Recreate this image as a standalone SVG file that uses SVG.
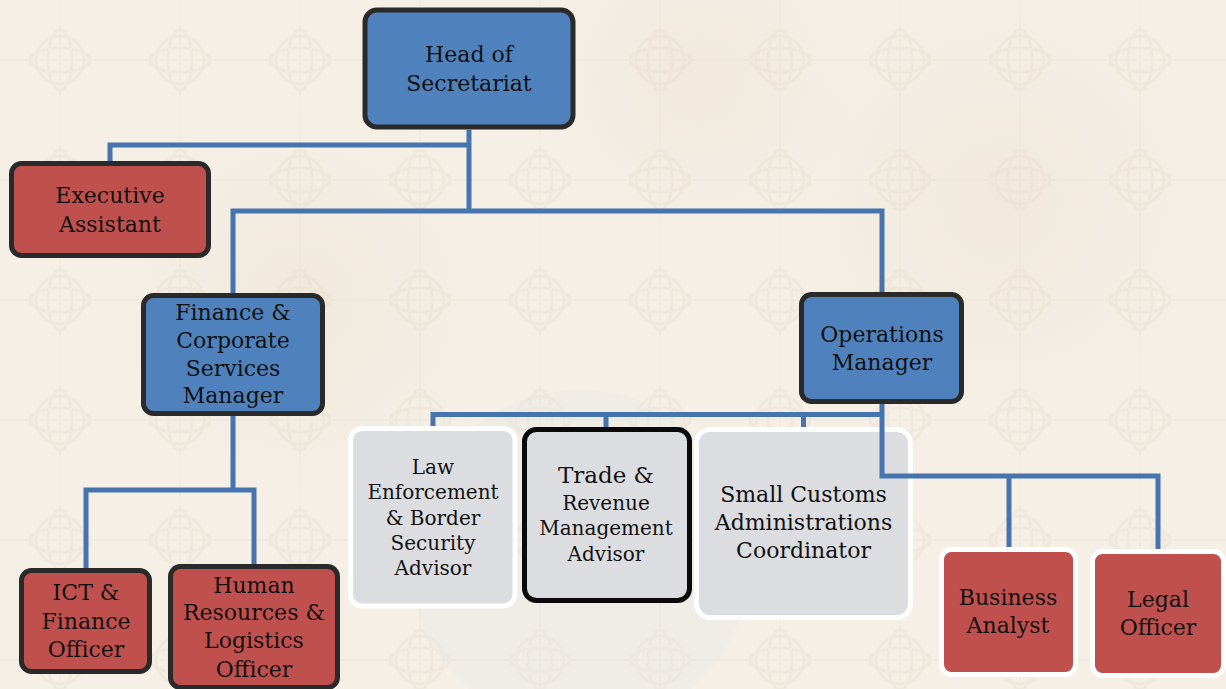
<svg xmlns="http://www.w3.org/2000/svg" width="1226" height="689" viewBox="0 0 1226 689">
<style>
.t{font-family:"DejaVu Serif","Liberation Serif",serif;font-size:22px;fill:#111;text-anchor:middle}
.s{font-size:20px}
.blue{fill:#4f81bd;stroke:#2a2a2a;stroke-width:5}
.red{fill:#c0504d;stroke:#2a2a2a;stroke-width:5}
.redw{fill:#c0504d;stroke:#ffffff;stroke-width:5}
.grey{fill:#dcdde0;stroke:#ffffff;stroke-width:5}
.greyk{fill:#dcdde0;stroke:#0a0a0a;stroke-width:5}
.c{fill:none;stroke:#4674ae;stroke-width:5;stroke-linejoin:miter}
</style>
<defs>
<pattern id="bg" width="120" height="120" patternUnits="userSpaceOnUse">
<rect width="120" height="120" fill="#f5efe6"/>
<g fill="none" stroke="#ede3d5" stroke-width="3" opacity="0.6">
<ellipse cx="60" cy="60" rx="12" ry="30"/>
<ellipse cx="60" cy="60" rx="30" ry="12"/>
<ellipse cx="60" cy="60" rx="24" ry="24" transform="rotate(45 60 60)"/>
</g>
<path d="M0 60 L120 60 M60 0 L60 120" stroke="#f0e8dc" stroke-width="2" opacity="0.7"/>
</pattern>
<radialGradient id="mot" cx="0.5" cy="0.5" r="0.5">
<stop offset="0" stop-color="#e8dccb" stop-opacity="0.35"/>
<stop offset="1" stop-color="#e8dccb" stop-opacity="0"/>
</radialGradient>
</defs>
<rect width="1226" height="689" fill="url(#bg)"/>
<circle cx="300" cy="300" r="200" fill="url(#mot)"/>
<circle cx="1000" cy="200" r="220" fill="url(#mot)"/>
<circle cx="700" cy="80" r="160" fill="url(#mot)"/>
<circle cx="580" cy="560" r="170" fill="#dfe6e6" opacity="0.25"/>

<g id="head">
<rect class="blue" x="365" y="10" width="208" height="117" rx="12"/>
<text class="t" x="469" y="62">Head of</text>
<text class="t" x="469" y="91">Secretariat</text>
</g>

<g id="exec">
<rect class="red" x="11.5" y="163.5" width="197" height="92" rx="10"/>
<text class="t" x="110" y="203">Executive</text>
<text class="t" x="110" y="232">Assistant</text>
</g>

<g id="finance">
<rect class="blue" x="143.5" y="295.5" width="179" height="118" rx="10"/>
<text class="t" x="233" y="320">Finance &amp;</text>
<text class="t" x="233" y="348">Corporate</text>
<text class="t" x="233" y="376">Services</text>
<text class="t" x="233" y="403">Manager</text>
</g>

<g id="ops">
<rect class="blue" x="801.5" y="294.5" width="160" height="107" rx="10"/>
<text class="t" x="882" y="342">Operations</text>
<text class="t" x="882" y="370">Manager</text>
</g>

<g id="law">
<rect class="grey" x="350.5" y="428.5" width="164.5" height="177.5" rx="12"/>
<text class="t s" x="433" y="474">Law</text>
<text class="t s" x="433" y="499">Enforcement</text>
<text class="t s" x="433" y="525">&amp; Border</text>
<text class="t s" x="433" y="550">Security</text>
<text class="t s" x="433" y="575">Advisor</text>
</g>

<g id="trade">
<rect class="greyk" x="524.5" y="429.5" width="165" height="171" rx="12"/>
<text class="t" x="606" y="483" style="font-size:23px">Trade &amp;</text>
<text class="t s" x="606" y="510">Revenue</text>
<text class="t s" x="606" y="535">Management</text>
<text class="t s" x="606" y="561">Advisor</text>
</g>

<g id="customs">
<rect class="grey" x="696.5" y="429.5" width="214" height="188" rx="14"/>
<text class="t" x="803.5" y="502">Small Customs</text>
<text class="t" x="803.5" y="530">Administrations</text>
<text class="t" x="803.5" y="558">Coordinator</text>
</g>

<g id="business">
<rect class="redw" x="941.5" y="549.5" width="134" height="125" rx="10"/>
<text class="t" x="1008" y="605">Business</text>
<text class="t" x="1008" y="633">Analyst</text>
</g>

<g id="legal">
<rect class="redw" x="1092.5" y="551.5" width="131" height="124" rx="10"/>
<text class="t" x="1158" y="607">Legal</text>
<text class="t" x="1158" y="635">Officer</text>
</g>

<g id="ict">
<rect class="red" x="21.5" y="570.5" width="128" height="101" rx="10"/>
<text class="t" x="86" y="600">ICT &amp;</text>
<text class="t" x="86" y="629">Finance</text>
<text class="t" x="86" y="657">Officer</text>
</g>

<g id="hr">
<rect class="red" x="170.5" y="566.5" width="167" height="121" rx="10"/>
<text class="t" x="254" y="593">Human</text>
<text class="t" x="254" y="620">Resources &amp;</text>
<text class="t" x="254" y="648">Logistics</text>
<text class="t" x="254" y="677">Officer</text>
</g>

<g id="connectors">
<path class="c" d="M469 129.5 V210"/>
<path class="c" d="M110 161 V145 H469"/>
<path class="c" d="M233 293 V211 H882 V292"/>
<path class="c" d="M233 416 V490"/>
<path class="c" d="M86 568 V490 H254 V564"/>
<path class="c" d="M433 426 V414.5 H882"/>
<path class="c" d="M606 427 V414.5"/>
<path class="c" d="M803.5 427 V414.5"/>
<path class="c" d="M882 404 V476 H1158 V549"/>
<path class="c" d="M1009 476 V547"/>
</g>
</svg>
